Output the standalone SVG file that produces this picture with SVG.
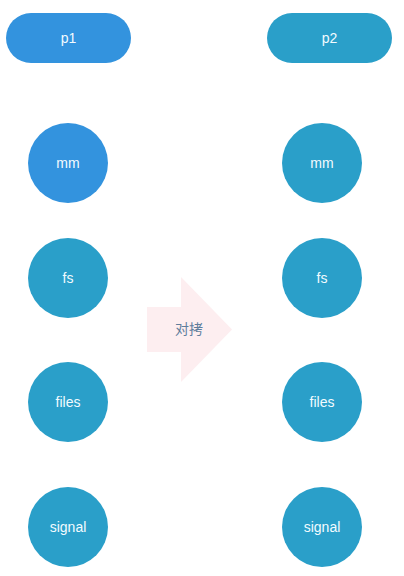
<svg xmlns="http://www.w3.org/2000/svg" width="404" height="576" viewBox="0 0 404 576">
<style>
.blue{fill:#3393de}
.teal{fill:#2a9fc9}
.lbl{font-family:"Liberation Sans",Arial,sans-serif;font-size:14px;fill:#f2fbff;text-anchor:middle;dominant-baseline:central}
.cn{font-family:"Liberation Sans","Noto Sans CJK SC",sans-serif;font-size:14px;fill:#5f7d9c;text-anchor:middle;dominant-baseline:central}
</style>
<rect width="404" height="576" fill="#ffffff"/>
<g id="p1"><rect class="blue" x="6" y="13" width="125" height="50" rx="25"/><text class="lbl" x="68.5" y="38">p1</text></g>
<g id="p2"><rect class="teal" x="267" y="13" width="125" height="50" rx="25"/><text class="lbl" x="329.5" y="38">p2</text></g>
<g id="mm1"><circle class="blue" cx="68" cy="163" r="40"/><text class="lbl" x="68" y="163">mm</text></g>
<g id="fs1"><circle class="teal" cx="68" cy="278" r="40"/><text class="lbl" x="68" y="278">fs</text></g>
<g id="files1"><circle class="teal" cx="68" cy="402" r="40"/><text class="lbl" x="68" y="402">files</text></g>
<g id="signal1"><circle class="teal" cx="68" cy="527" r="40"/><text class="lbl" x="68" y="527">signal</text></g>
<g id="mm2"><circle class="teal" cx="322" cy="163" r="40"/><text class="lbl" x="322" y="163">mm</text></g>
<g id="fs2"><circle class="teal" cx="322" cy="278" r="40"/><text class="lbl" x="322" y="278">fs</text></g>
<g id="files2"><circle class="teal" cx="322" cy="402" r="40"/><text class="lbl" x="322" y="402">files</text></g>
<g id="signal2"><circle class="teal" cx="322" cy="527" r="40"/><text class="lbl" x="322" y="527">signal</text></g>
<g id="swap"><polygon points="147,307 181,307 181,277 232,329.5 181,382 181,352 147,352" fill="#fdeef0"/><text class="cn" x="189" y="329">对拷</text></g>
</svg>
